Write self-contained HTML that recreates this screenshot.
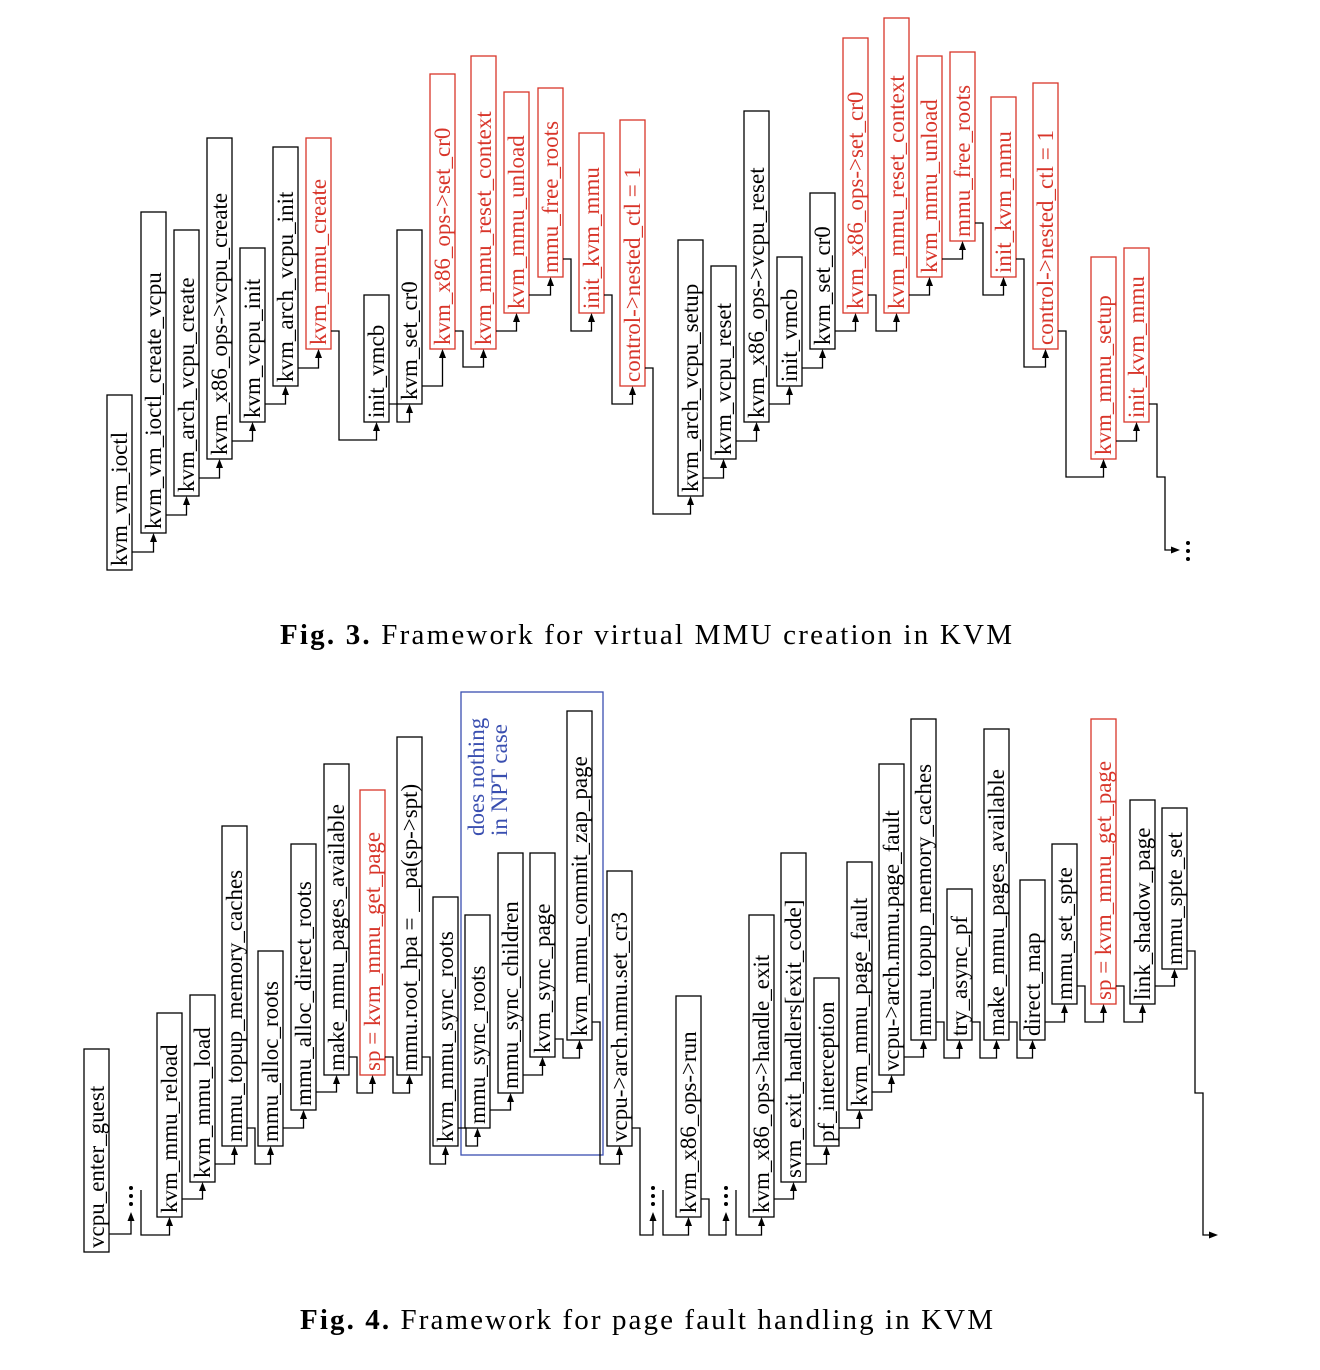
<!DOCTYPE html>
<html><head><meta charset="utf-8"><style>
body{margin:0;background:#fff}
svg{display:block}
text{font-family:"Liberation Serif",serif}
</style></head><body>
<svg id="c" width="1320" height="1370" viewBox="0 0 1320 1370">
<rect x="461" y="692" width="142" height="463" fill="none" stroke="#3a4fb0" stroke-width="1.3"/>
<text transform="translate(484,836) rotate(-90)" font-size="23" fill="#3a4fb0">does nothing</text>
<text transform="translate(507,836) rotate(-90)" font-size="23" fill="#3a4fb0">in NPT case</text>
<text x="280" y="644" font-size="29" textLength="732" lengthAdjust="spacing"><tspan font-weight="bold">Fig. 3.</tspan> Framework for virtual MMU creation in KVM</text>
<text x="300" y="1329" font-size="29" textLength="693" lengthAdjust="spacing"><tspan font-weight="bold">Fig. 4.</tspan> Framework for page fault handling in KVM</text>
</svg>
<script>
// Fig 3 data
const f3Labels=["kvm_vm_ioctl","kvm_vm_ioctl_create_vcpu","kvm_arch_vcpu_create","kvm_x86_ops->vcpu_create","kvm_vcpu_init","kvm_arch_vcpu_init","kvm_mmu_create","init_vmcb","kvm_set_cr0","kvm_x86_ops->set_cr0","kvm_mmu_reset_context","kvm_mmu_unload","mmu_free_roots","init_kvm_mmu","control->nested_ctl = 1","kvm_arch_vcpu_setup","kvm_vcpu_reset","kvm_x86_ops->vcpu_reset","init_vmcb","kvm_set_cr0","kvm_x86_ops->set_cr0","kvm_mmu_reset_context","kvm_mmu_unload","mmu_free_roots","init_kvm_mmu","control->nested_ctl = 1","kvm_mmu_setup","init_kvm_mmu"];
const f3Left=[107,141,174,207,240,273,306,364,397,430,471,504,538,579,620,678,711,744,777,810,843,884,917,950,991,1033,1091,1124];
const f3Top=[395,212,230,138,248,147,138,295,230,74,56,92,88,133,120,240,266,111,257,193,38,18,56,52,97,83,257,248];
const f3Bottom=[570,533,496,459,422,386,349,422,404,349,349,313,277,313,386,496,459,422,386,349,313,313,277,241,277,349,459,422];
const f3Red=[0,0,0,0,0,0,1,0,0,1,1,1,1,1,1,0,0,0,0,0,1,1,1,1,1,1,1,1];
// Fig 4 data (label "..." = ellipsis node)
const f4Labels=["vcpu_enter_guest","...","kvm_mmu_reload","kvm_mmu_load","mmu_topup_memory_caches","mmu_alloc_roots","mmu_alloc_direct_roots","make_mmu_pages_available","sp = kvm_mmu_get_page","mmu.root_hpa = __pa(sp->spt)","kvm_mmu_sync_roots","mmu_sync_roots","mmu_sync_children","kvm_sync_page","kvm_mmu_commit_zap_page","vcpu->arch.mmu.set_cr3","...","kvm_x86_ops->run","...","kvm_x86_ops->handle_exit","svm_exit_handlers[exit_code]","pf_interception","kvm_mmu_page_fault","vcpu->arch.mmu.page_fault","mmu_topup_memory_caches","try_async_pf","make_mmu_pages_available","direct_map","mmu_set_spte","sp = kvm_mmu_get_page","link_shadow_page","mmu_spte_set"];
const f4Left=[84,126,157,190,222,258,291,324,360,397,433,465,498,530,567,607,648,676,721,749,781,814,847,879,911,947,984,1020,1052,1091,1130,1162];
const f4Top=[1049,1183,1013,995,826,951,844,764,790,737,897,915,853,853,711,871,1183,996,1183,915,853,978,862,764,719,889,729,880,844,719,800,808];
const f4Bottom=[1252,1217,1217,1182,1146,1146,1110,1075,1075,1075,1146,1128,1093,1057,1040,1146,1217,1217,1217,1217,1182,1146,1110,1075,1040,1040,1040,1040,1004,1004,1004,969];
const f4Red=[0,0,0,0,0,0,0,0,1,0,0,0,0,0,0,0,0,0,0,0,0,0,0,0,0,0,0,0,0,1,0,0];

const svg=document.getElementById('c');
const NS='http://www.w3.org/2000/svg';
const W=25;
function mk(t,a){const e=document.createElementNS(NS,t);for(const k in a)e.setAttribute(k,a[k]);svg.appendChild(e);return e;}
function arrowUp(x,y){const p=mk('path',{d:`M${x} ${y} L${x-3.5} ${y+9} L${x+3.5} ${y+9} Z`,fill:'#000'});

}
function dots(x,yb){for(let i=0;i<3;i++){const c=mk('circle',{cx:x,cy:yb-3-i*8,r:2,fill:'#000'});

}}
function node(lbl,l,t,b,red){
  const isDots=lbl==='...';
  if(isDots){dots(l+5,b-10);return {right:l+15,cx:l+5,bottom:b-5,exit:b-27,dots:true,hy:b+18};}
  const col=red?'#d8352a':'#000';
  const r=mk('rect',{x:l,y:t,width:W,height:b-t,fill:'#fff',stroke:col,'stroke-width':1.3});
  
  
  const tx=mk('text',{transform:`translate(${l+20},${b-4}) rotate(-90)`,'font-size':23,fill:col});
  tx.textContent=lbl;
  
  
  return {right:l+W,cx:l+W/2,bottom:b,exit:b-18};
}
function link(a,b){
  const ex=a.right, ey=a.exit, nb=b.bottom, cx=b.cx;
  let d;
  const straight = b.dots ? (!a.dots && ey>=b.hy-5) : (!a.dots && ey>=nb+10);
  if(straight) d=`M${ex} ${ey} H${cx} V${nb+8}`;
  else {
    const hy=b.dots?b.hy:nb+18;
    const off=a.dots?0:8;
    d=`M${ex} ${ey} H${ex+off} V${hy} H${cx} V${nb+8}`;
  }
  const p=mk('path',{d:d,fill:'none',stroke:'#000','stroke-width':1.3});
  
  
  arrowUp(cx,nb);
}
function draw(labels,left,top,bottom,red){
  const ns=[];
  for(let i=0;i<labels.length;i++)ns.push(node(labels[i],left[i],top[i],bottom[i],red[i]));
  for(let i=1;i<ns.length;i++)link(ns[i-1],ns[i]);
  return ns;
}
const n3=draw(f3Labels,f3Left,f3Top,f3Bottom,f3Red);
const n4=draw(f4Labels,f4Left,f4Top,f4Bottom,f4Red);
function tail(n,y1,y2,xend,withDots){
  const x=n.right;
  const p=mk('path',{d:`M${x} ${n.exit} H${x+8} V${y1} H${x+16} V${y2} H${xend-8}`,fill:'none',stroke:'#000','stroke-width':1.3});
  
  
  const a=mk('path',{d:`M${xend} ${y2} L${xend-9} ${y2-3.5} L${xend-9} ${y2+3.5} Z`,fill:'#000'});
  
  
  if(withDots)dots(xend+8,y2+12);
}
tail(n3[n3.length-1],477,550,1180,true);
tail(n4[n4.length-1],1093,1235,1218,false);
</script>
</body></html>
